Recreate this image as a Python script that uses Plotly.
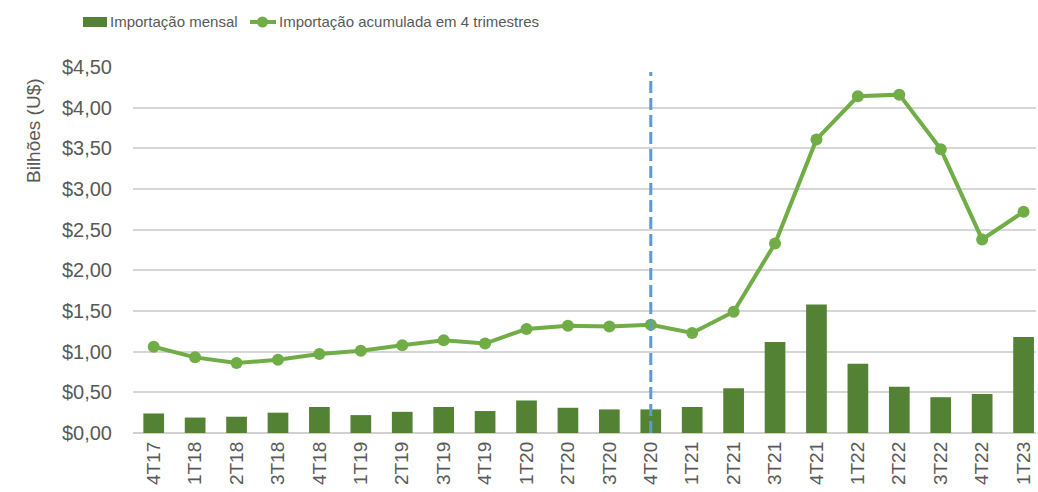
import plotly.graph_objects as go

categorias = ["4T17", "1T18", "2T18", "3T18", "4T18", "1T19", "2T19", "3T19", "4T19",
              "1T20", "2T20", "3T20", "4T20", "1T21", "2T21", "3T21", "4T21", "1T22",
              "2T22", "3T22", "4T22", "1T23"]
importacao_mensal = [0.24, 0.19, 0.20, 0.25, 0.32, 0.22, 0.26, 0.32, 0.27, 0.40, 0.31,
                     0.29, 0.29, 0.32, 0.55, 1.12, 1.58, 0.85, 0.57, 0.44, 0.48, 1.18]
importacao_acumulada = [1.06, 0.93, 0.86, 0.90, 0.97, 1.01, 1.08, 1.14, 1.10, 1.28, 1.32,
                        1.31, 1.33, 1.23, 1.49, 2.33, 3.61, 4.14, 4.16, 3.49, 2.38, 2.72]
y_tickvals = [0, 0.5, 1.0, 1.5, 2.0, 2.5, 3.0, 3.5, 4.0, 4.5]
y_ticktext = ["$0,00", "$0,50", "$1,00", "$1,50", "$2,00", "$2,50", "$3,00",
              "$3,50", "$4,00", "$4,50"]
marco = "4T20"
nome_barras = "Importação mensal"
nome_linha = "Importação acumulada em 4 trimestres"

W, H = 1038, 492
L, R, T, B = 133, 2, 67, 59
PW, PH = W - L - R, H - T - B

def fx(px):
    return (px - L) / PW

def fy(py):
    return (H - B - py) / PH

GRAY = "#595959"
BAR = "#548235"
LINE = "#70AD47"
FONT = "Liberation Sans, Arial, sans-serif"

fig = go.Figure()
fig.add_trace(go.Bar(x=categorias, y=importacao_mensal, name=nome_barras,
                     marker=dict(color=BAR, line=dict(width=0)), showlegend=False))
fig.add_trace(go.Scatter(x=categorias, y=importacao_acumulada, name=nome_linha,
                         mode="lines+markers",
                         line=dict(color=LINE, width=4),
                         marker=dict(color=LINE, size=12), showlegend=False))

marco_idx = categorias.index(marco)
fig.add_shape(type="line", xref="x", yref="y", x0=marco_idx, x1=marco_idx,
              y0=0, y1=4.44, line=dict(color="#5B9BD5", width=3, dash="12px,5px"),
              layer="above")

# custom legend
fig.add_shape(type="rect", xref="paper", yref="paper",
              x0=fx(83), x1=fx(107), y0=fy(27), y1=fy(17),
              fillcolor=BAR, line=dict(width=0))
fig.add_shape(type="line", xref="paper", yref="paper",
              x0=fx(250), x1=fx(276), y0=fy(22), y1=fy(22),
              line=dict(color=LINE, width=4))
fig.add_shape(type="circle", xref="paper", yref="paper",
              x0=fx(257), x1=fx(268), y0=fy(27.5), y1=fy(16.5),
              fillcolor=LINE, line=dict(width=0))
fig.add_annotation(text=nome_barras, xref="paper", yref="paper", x=fx(108), y=fy(22),
                   xanchor="left", yanchor="middle", showarrow=False,
                   font=dict(family=FONT, size=15, color=GRAY))
fig.add_annotation(text=nome_linha, xref="paper", yref="paper", x=fx(277), y=fy(22),
                   xanchor="left", yanchor="middle", showarrow=False,
                   font=dict(family=FONT, size=15, color=GRAY))
fig.add_annotation(text="Bilhões (U$)", xref="paper", yref="paper", x=fx(33), y=fy(131),
                   xanchor="center", yanchor="middle", showarrow=False, textangle=-90,
                   font=dict(family=FONT, size=19, color=GRAY))

fig.update_layout(
    width=W, height=H,
    margin=dict(l=L, r=R, t=T, b=B, pad=0),
    paper_bgcolor="white", plot_bgcolor="white",
    bargap=0.5,
    font=dict(family=FONT, color=GRAY),
    xaxis=dict(type="category", range=[-0.5, 21.3], tickangle=-90,
               tickfont=dict(size=19, color=GRAY), showgrid=False,
               showline=False, ticks="", ticklabelstandoff=4),
    yaxis=dict(range=[0, 4.5], tickvals=y_tickvals, ticktext=y_ticktext,
               tickfont=dict(size=20, color=GRAY), showgrid=True,
               gridcolor="#d6d6d6", gridwidth=1.5, zeroline=True,
               zerolinecolor="#d0d0d0", zerolinewidth=2, showline=False,
               ticks="", ticklabelstandoff=20),
)

fig.write_html("out.html", config={"displayModeBar": False},
               post_script="document.body.style.margin='0px';"
                           "document.body.style.overflow='hidden';")
